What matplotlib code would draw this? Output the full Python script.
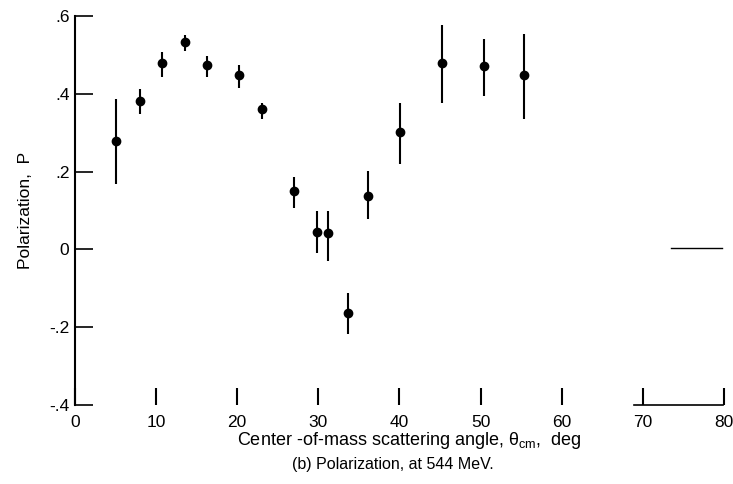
import matplotlib.pyplot as plt

# angle (deg), polarization, error-bar top and bottom
theta = [5.0, 8.0, 10.7, 13.5, 16.3, 20.2, 23.1, 27.0, 29.8, 31.2, 33.7, 36.1, 40.1, 45.2, 50.4, 55.4]
pol = [0.279, 0.381, 0.480, 0.533, 0.473, 0.449, 0.360, 0.149, 0.045, 0.041, -0.163, 0.137, 0.303, 0.480, 0.472, 0.448]
top = [0.387, 0.412, 0.508, 0.551, 0.497, 0.474, 0.377, 0.185, 0.099, 0.100, -0.111, 0.202, 0.376, 0.578, 0.541, 0.555]
bot = [0.168, 0.348, 0.444, 0.511, 0.444, 0.416, 0.334, 0.106, -0.010, -0.030, -0.218, 0.077, 0.219, 0.376, 0.394, 0.335]

xticks = [0, 10, 20, 30, 40, 50, 60, 70, 80]
yticks = [-0.4, -0.2, 0, 0.2, 0.4, 0.6]
ylabels = ['-.4', '-.2', '0', '.2', '.4', '.6']

# leftover bits of the frame on the scan
base_x = [68.9, 79.9]
zero_x = [73.5, 79.8]

plt.rcParams['font.family'] = ['Liberation Sans', 'DejaVu Sans']
plt.rcParams['mathtext.fontset'] = 'custom'
plt.rcParams['mathtext.rm'] = 'Liberation Sans'
plt.rcParams['mathtext.it'] = 'Liberation Sans'

fig = plt.figure(figsize=(7.33, 4.84), dpi=100)
ax = fig.add_axes([0.1023, 0.1632, 0.8854, 0.8037])

yerr = [[p - b for p, b in zip(pol, bot)], [t - p for p, t in zip(pol, top)]]
ax.errorbar(theta, pol, yerr=yerr, fmt='o', color='black', ms=6,
            elinewidth=1.5, capsize=0)

ax.plot(base_x, [-0.4, -0.4], color='black', lw=1.2, clip_on=False)
ax.plot(zero_x, [0.004, 0.004], color='black', lw=1.0, clip_on=False)

ax.set_xlim(0, 80)
ax.set_ylim(-0.4, 0.6)
for s in ['top', 'right', 'bottom']:
    ax.spines[s].set_visible(False)
ax.spines['left'].set_linewidth(1.5)

ax.set_xticks(xticks)
ax.set_yticks(yticks)
ax.set_yticklabels(ylabels)
ax.tick_params(axis='x', direction='in', length=12, width=1.5, pad=7, labelsize=12.5)
ax.tick_params(axis='y', direction='in', length=13, width=1.2, pad=4, labelsize=12.5)

ax.set_xlabel('Center -of-mass scattering angle, $\\mathregular{\\theta_{cm}}$,  deg', fontsize=13, labelpad=0)
ax.xaxis.set_label_coords(0.515, -0.065)
ax.set_ylabel('Polarization,  P', fontsize=12.5, labelpad=12)
fig.text(0.536, 0.041, '(b) Polarization, at 544 MeV.', ha='center', va='center', fontsize=11.5)

plt.savefig('out.png', dpi=100)
